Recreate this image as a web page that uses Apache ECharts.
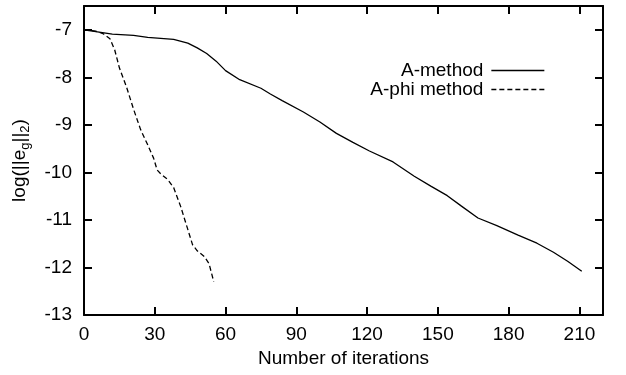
<!DOCTYPE html>
<html>
<head>
<meta charset="utf-8">
<script src="https://cdn.jsdelivr.net/npm/echarts@6/dist/echarts.min.js"></script>
<style>
  html, body { margin: 0; padding: 0; background: #fff; }
  #chart { width: 626px; height: 375px; }
</style>
</head>
<body>
<div id="chart"></div>
<script>
// iterations / log error
const aMethodX = [0, 5, 12, 21, 27, 38, 44, 48, 52, 56, 60, 66, 75, 79, 84, 93, 100, 107, 114, 121, 131, 140, 147, 154, 160, 167, 175, 184, 192, 199, 205, 211]
const aMethodY = [-7.0, -7.04, -7.09, -7.12, -7.16, -7.2, -7.28, -7.38, -7.5, -7.66, -7.86, -8.05, -8.23, -8.35, -8.49, -8.73, -8.94, -9.18, -9.37, -9.55, -9.78, -10.08, -10.29, -10.49, -10.71, -10.96, -11.12, -11.32, -11.49, -11.68, -11.87, -12.08]
const aPhiX = [0, 5, 8, 11, 13, 15, 18, 21, 24, 27, 29.5, 31, 32.5, 35.5, 38, 41, 43.5, 46, 48, 51, 53, 55]
const aPhiY = [-7.0, -7.03, -7.08, -7.19, -7.42, -7.8, -8.2, -8.67, -9.1, -9.42, -9.7, -9.95, -10.03, -10.15, -10.32, -10.72, -11.12, -11.52, -11.65, -11.77, -11.92, -12.3]
const seriesNames = ['A-method', 'A-phi method']
const xTicks = [0, 30, 60, 90, 120, 150, 180, 210]
const yTicks = [-13, -12, -11, -10, -9, -8, -7]

const pairs = (xs, ys) => xs.map((x, i) => [x, ys[i]])
const font = 'Liberation Sans, Arial, sans-serif'

const axisLine = { show: true, onZero: false, lineStyle: { color: '#000', width: 2 } }
const tick = { show: true, inside: true, length: 8, lineStyle: { color: '#000', width: 2 } }

const xBase = { type: 'value', min: 0, max: 220, interval: 30, splitLine: { show: false }, axisLine, axisTick: tick }
const yBase = { type: 'value', min: -13, max: -6.5, interval: 1, splitLine: { show: false }, axisLine, axisTick: tick }

const chart = echarts.init(document.getElementById('chart'))
chart.setOption({
  animation: false,
  backgroundColor: '#fff',
  textStyle: { fontFamily: font },
  grid: { left: 84, right: 23, top: 6, bottom: 60 },
  legend: {
    orient: 'vertical',
    right: 76,
    top: 56,
    align: 'right',
    itemWidth: 53,
    itemHeight: 15,
    itemGap: 0,
    itemStyle: { opacity: 0 },
    lineStyle: { width: 1.3 },
    textStyle: { fontSize: 19, color: '#000', fontFamily: font, padding: [0, 3, 0, 0] },
    data: seriesNames
  },
  xAxis: [
    Object.assign({}, xBase, {
      position: 'bottom',
      name: 'Number of iterations',
      nameLocation: 'middle',
      nameGap: 30,
      nameTextStyle: { fontSize: 19, color: '#000' },
      axisLabel: {
        fontSize: 19, color: '#000', margin: 10,
        formatter: v => (xTicks.includes(v) ? String(v) : '')
      }
    }),
    Object.assign({}, xBase, { position: 'top', axisLabel: { show: false } })
  ],
  yAxis: [
    Object.assign({}, yBase, {
      position: 'left',
      name: '{n|log(||e}{s|g}{n|||}{s|2}{n|)}',
      nameLocation: 'middle',
      nameRotate: 90,
      nameGap: 52,
      nameTextStyle: {
        color: '#000',
        rich: {
          n: { fontSize: 19, lineHeight: 24, verticalAlign: 'middle', color: '#000', fontFamily: font },
          s: { fontSize: 13, lineHeight: 14, verticalAlign: 'bottom', color: '#000', fontFamily: font }
        }
      },
      axisLabel: {
        fontSize: 19, color: '#000', margin: 12,
        formatter: v => (yTicks.includes(v) ? String(v) : '')
      }
    }),
    Object.assign({}, yBase, { position: 'right', axisLabel: { show: false } })
  ],
  series: [
    {
      name: seriesNames[0],
      type: 'line',
      symbol: 'none',
      data: pairs(aMethodX, aMethodY),
      lineStyle: { color: '#000', width: 1.3 },
      itemStyle: { color: '#000' }
    },
    {
      name: seriesNames[1],
      type: 'line',
      symbol: 'none',
      data: pairs(aPhiX, aPhiY),
      lineStyle: { color: '#000', width: 1.3, type: [5, 3] },
      itemStyle: { color: '#000' }
    }
  ]
})
</script>
</body>
</html>
